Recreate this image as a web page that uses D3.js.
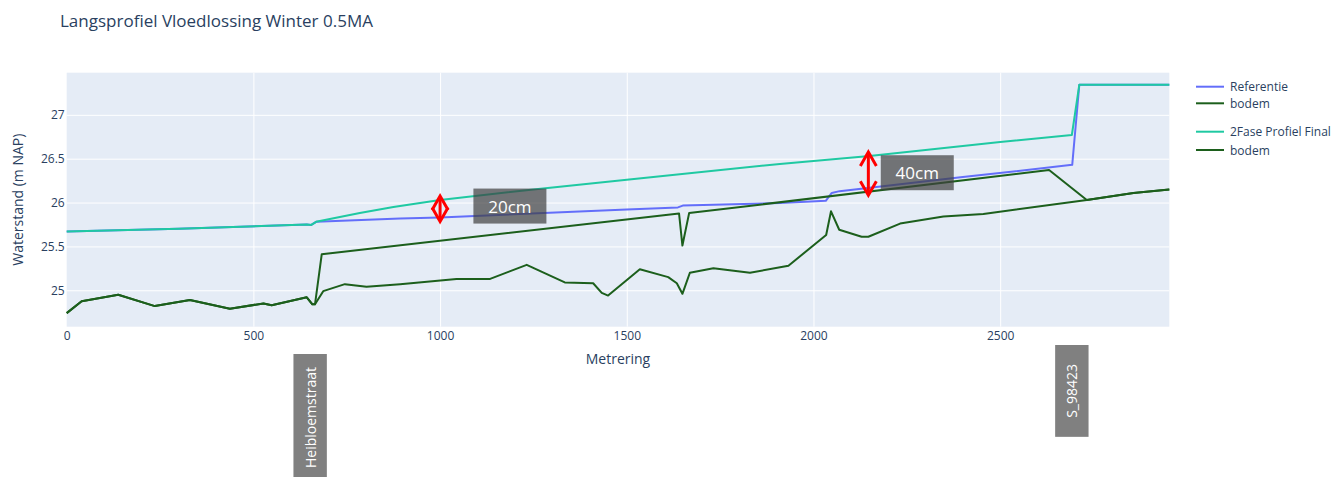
<!DOCTYPE html>
<html>
<head>
<meta charset="utf-8">
<script src="https://cdn.jsdelivr.net/npm/d3@7"></script>
<style>
  html, body { margin: 0; padding: 0; background: #fff; }
  svg { display: block; font-family: "Open Sans", "DejaVu Sans", sans-serif; }
</style>
</head>
<body>
<svg id="chart" width="1332" height="477"></svg>
<script>
// Water level (Referentie) along the reach
const refX = [0, 300, 643, 655, 668, 893, 1000, 1500, 1637, 1650, 1910, 2033, 2049, 2070, 2400, 2693, 2712, 2953];
const refY = [25.67, 25.70, 25.75, 25.745, 25.78, 25.817, 25.83, 25.92, 25.945, 25.965, 25.995, 26.02, 26.11, 26.13, 26.29, 26.43, 27.343, 27.343];

// Bed level, reference situation
const bodemRefX = [0, 40, 138, 236, 330, 437, 527, 549, 643, 658, 665, 687, 745, 803, 893, 1044, 1134, 1232, 1334, 1410, 1433, 1450, 1535, 1611, 1634, 1649, 1669, 1732, 1830, 1933, 2034, 2047, 2069, 2129, 2147, 2232, 2348, 2455, 2732, 2857, 2953];
const bodemRefY = [24.74, 24.875, 24.95, 24.82, 24.89, 24.79, 24.85, 24.83, 24.92, 24.84, 24.84, 24.99, 25.07, 25.04, 25.07, 25.13, 25.13, 25.29, 25.09, 25.08, 24.97, 24.94, 25.24, 25.15, 25.08, 24.96, 25.20, 25.25, 25.20, 25.28, 25.63, 25.90, 25.69, 25.61, 25.61, 25.76, 25.84, 25.87, 26.03, 26.11, 26.15];

// Water level, two-stage profile
const faseX = [0, 300, 643, 655, 668, 785, 875, 1000, 1250, 1500, 1910, 2150, 2500, 2692, 2712, 2953];
const faseY = [25.67, 25.70, 25.75, 25.745, 25.78, 25.88, 25.95, 26.03, 26.15, 26.26, 26.44, 26.53, 26.69, 26.77, 27.343, 27.343];

// Bed level, two-stage profile
const bodemFaseX = [0, 40, 138, 236, 330, 437, 527, 549, 643, 658, 665, 683, 1640, 1649, 1667, 2631, 2732, 2857, 2953];
const bodemFaseY = [24.74, 24.875, 24.95, 24.82, 24.89, 24.79, 24.85, 24.83, 24.92, 24.84, 24.84, 25.41, 25.875, 25.51, 25.88, 26.37, 26.03, 26.11, 26.15];

const seriesNames = ["Referentie", "bodem", "2Fase Profiel Final", "bodem"];
const seriesColors = ["#636efa", "#1c5f1c", "#1fc9a2", "#1c5f1c"];

const xTicks = [0, 500, 1000, 1500, 2000, 2500];
const yTicks = [25, 25.5, 26, 26.5, 27];

// Difference markers between the two water levels
const diffMarks = [
  { x: 1000, low: 25.83, high: 26.03, label: "20cm", labelX: 1187, labelY: 25.96 },
  { x: 2147, low: 26.13, high: 26.53, label: "40cm", labelX: 2278, labelY: 26.34 }
];

// Locations along the reach, written under the axis
const locations = [
  { name: "Heibloemstraat", x: 652 },
  { name: "S_98423", x: 2692 }
];

const svg = d3.select("#chart");
const plotL = 66.7, plotR = 1169.3, plotT = 72.7, plotB = 326.7;

const x = d3.scaleLinear().domain([0, 2953]).range([plotL, plotR]);
const y = d3.scaleLinear().domain([24.585, 27.48]).range([plotB, plotT]);

const textColor = "#2a3f5f";

// Title
svg.append("text")
  .attr("x", 60).attr("y", 26.5)
  .attr("font-size", 17).attr("fill", textColor)
  .text("Langsprofiel Vloedlossing Winter 0.5MA");

// Plot background
svg.append("rect")
  .attr("x", plotL).attr("y", plotT)
  .attr("width", plotR - plotL).attr("height", plotB - plotT)
  .attr("fill", "#e5ecf6");

// Grid + tick labels
const xAxis = svg.append("g")
  .attr("transform", `translate(0,${plotB})`)
  .call(d3.axisBottom(x).tickValues(xTicks).tickSize(-(plotB - plotT)).tickPadding(5).tickFormat(d3.format("d")));
const yAxis = svg.append("g")
  .attr("transform", `translate(${plotL},0)`)
  .call(d3.axisLeft(y).tickValues(yTicks).tickSize(-(plotR - plotL)).tickPadding(2).tickFormat(d => String(d)));

[xAxis, yAxis].forEach(g => {
  g.select(".domain").remove();
  g.selectAll(".tick line").attr("stroke", "#fff").attr("stroke-width", 1);
  g.selectAll(".tick text").attr("fill", textColor).attr("font-size", 12)
    .attr("font-family", "'Open Sans', sans-serif");
});
xAxis.selectAll(".tick").filter(d => d === 0).select("line").remove();

// Axis titles
svg.append("text")
  .attr("x", (plotL + plotR) / 2).attr("y", 364)
  .attr("text-anchor", "middle").attr("font-size", 14).attr("fill", textColor)
  .text("Metrering");
svg.append("text")
  .attr("transform", `translate(23,${(plotT + plotB) / 2}) rotate(-90)`)
  .attr("text-anchor", "middle").attr("font-size", 14).attr("fill", textColor)
  .text("Waterstand (m NAP)");

// Lines
const line = d3.line().x(d => x(d[0])).y(d => y(d[1]));
const seriesData = [
  d3.zip(refX, refY),
  d3.zip(bodemRefX, bodemRefY),
  d3.zip(faseX, faseY),
  d3.zip(bodemFaseX, bodemFaseY)
];
const plot = svg.append("g");
seriesData.forEach((pts, i) => {
  plot.append("path")
    .datum(pts)
    .attr("d", line)
    .attr("fill", "none")
    .attr("stroke", seriesColors[i])
    .attr("stroke-width", 2)
    .attr("stroke-linejoin", "round");
});

// Difference markers: red double arrow + grey label box
diffMarks.forEach(m => {
  const cx = x(m.x);
  const yTop = y(m.high) - 4, yBot = y(m.low) + 4;
  const head = 14, half = 8;
  const g = svg.append("g").attr("stroke", "#ff0000").attr("stroke-width", 3)
    .attr("fill", "none").attr("stroke-linejoin", "miter").attr("stroke-linecap", "butt");
  g.append("line").attr("x1", cx).attr("x2", cx).attr("y1", yTop + 2).attr("y2", yBot - 2);
  g.append("polyline").attr("points", `${cx - half},${yTop + head} ${cx},${yTop} ${cx + half},${yTop + head}`);
  g.append("polyline").attr("points", `${cx - half},${yBot - head} ${cx},${yBot} ${cx + half},${yBot - head}`);

  const lx = x(m.labelX), ly = y(m.labelY);
  svg.append("rect")
    .attr("x", lx - 36.5).attr("y", ly - 17.5)
    .attr("width", 73).attr("height", 35)
    .attr("fill", "rgb(64,64,64)").attr("fill-opacity", 0.7);
  svg.append("text")
    .attr("x", lx).attr("y", ly)
    .attr("text-anchor", "middle").attr("dominant-baseline", "central")
    .attr("font-size", 17).attr("fill", "#fff")
    .text(m.label);
});

// Location labels below the axis
const locTop = [354, 345];
const locPad = [13, 19];
locations.forEach((loc, i) => {
  const cx = x(loc.x);
  const g = svg.append("g");
  const rect = g.append("rect").attr("fill", "#808080");
  const t = g.append("text")
    .attr("font-size", 14).attr("fill", "#fff")
    .attr("text-anchor", "middle").attr("dominant-baseline", "central")
    .text(loc.name);
  const len = t.node().getComputedTextLength();
  const h = len + 2 * locPad[i];
  const cy = locTop[i] + h / 2;
  rect.attr("x", cx - 16.7).attr("y", locTop[i])
    .attr("width", 33.4).attr("height", h);
  t.attr("transform", `translate(${cx},${cy}) rotate(-90)`);
});

// Legend
const legendRows = [86.7, 103.3, 131.7, 150];
seriesNames.forEach((name, i) => {
  const ly = legendRows[i];
  svg.append("line")
    .attr("x1", 1196).attr("x2", 1224).attr("y1", ly).attr("y2", ly)
    .attr("stroke", seriesColors[i]).attr("stroke-width", 2);
  svg.append("text")
    .attr("x", 1230).attr("y", ly)
    .attr("dominant-baseline", "central")
    .attr("font-size", 12).attr("fill", textColor)
    .text(name);
});
</script>
</body>
</html>
